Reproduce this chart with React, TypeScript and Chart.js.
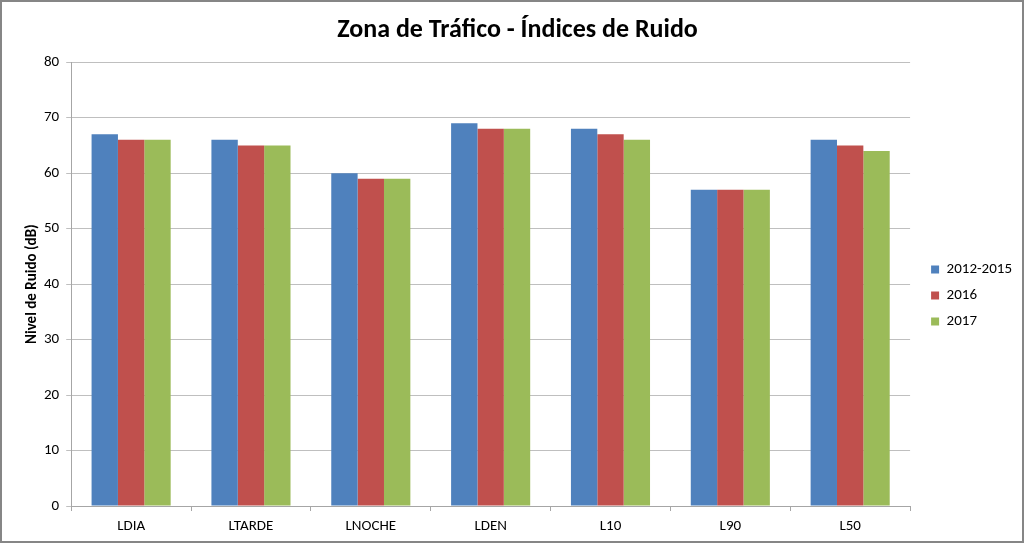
import React, { useEffect, useRef } from "react";
import { Chart, registerables } from "chart.js";

Chart.register(...registerables);

const categories = ["LDIA", "LTARDE", "LNOCHE", "LDEN", "L10", "L90", "L50"];
const series2012 = [67, 66, 60, 69, 68, 57, 66];
const series2016 = [66, 65, 59, 68, 67, 57, 65];
const series2017 = [66, 65, 59, 68, 66, 57, 64];
const seriesLabels = ["2012-2015", "2016", "2017"];
const seriesColors = ["#4F81BD", "#C0504D", "#9BBB59"];
const titleText = "Zona de Tráfico - Índices de Ruido";
const yTitle = "Nivel de Ruido (dB)";

const FONT = "Carlito, 'Liberation Sans Narrow', 'Open Sans', sans-serif";

const legendTweak = {
  id: "legendTweak",
  afterLayout(chart: any) {
    const lg = chart.legend;
    if (lg) {
      lg.top += 24;
      lg.bottom += 24;
      lg.left += 10;
      lg.right += 10;
    }
  },
};

export default function App() {
  const ref = useRef<HTMLCanvasElement | null>(null);
  useEffect(() => {
    if (!ref.current) return;
    const data = [series2012, series2016, series2017];
    const chart = new Chart(ref.current, {
      type: "bar",
      data: {
        labels: categories,
        datasets: data.map((d, i) => ({
          label: seriesLabels[i],
          data: d,
          backgroundColor: seriesColors[i],
          borderWidth: 0,
          barPercentage: 1,
          categoryPercentage: 0.66,
        })),
      },
      plugins: [legendTweak],
      options: {
        responsive: false,
        animation: false,
        maintainAspectRatio: false,
        layout: { padding: { left: 21, right: 10, top: 0, bottom: 0 } },
        plugins: {
          title: {
            display: true,
            text: titleText,
            color: "#000",
            font: { family: FONT, size: 26, weight: "bold" },
            padding: { top: 13, bottom: 16 },
          },
          legend: {
            position: "right",
            labels: {
              color: "#000",
              font: { family: FONT, size: 15 },
              boxWidth: 8,
              boxHeight: 8,
              padding: 11,
            },
          },
          tooltip: { enabled: false },
        },
        scales: {
          x: {
            grid: { drawOnChartArea: false, drawTicks: true, tickLength: 5, color: "#a6a6a6", offset: true },
            border: { color: "#a6a6a6" },
            ticks: { color: "#000", font: { family: FONT, size: 15 }, padding: 6 },
          },
          y: {
            min: 0,
            max: 80,
            ticks: { stepSize: 10, color: "#000", font: { family: FONT, size: 15 }, padding: 7 },
            grid: { color: "#bfbfbf", tickLength: 5, lineWidth: 1 },
            border: { color: "#a6a6a6" },
            title: {
              display: true,
              text: yTitle,
              color: "#000",
              font: { family: FONT, size: 15, weight: "bold" },
              padding: { top: 0, bottom: -4 },
            },
          },
        },
      },
    });
    return () => chart.destroy();
  }, []);
  return (
    <div
      style={{
        position: "absolute",
        left: 0,
        top: 0,
        width: 1024,
        height: 543,
        boxSizing: "border-box",
        border: "2px solid #868686",
        background: "#fff",
      }}
    >
      <canvas ref={ref} width={1020} height={539} style={{ display: "block" }} />
    </div>
  );
}
